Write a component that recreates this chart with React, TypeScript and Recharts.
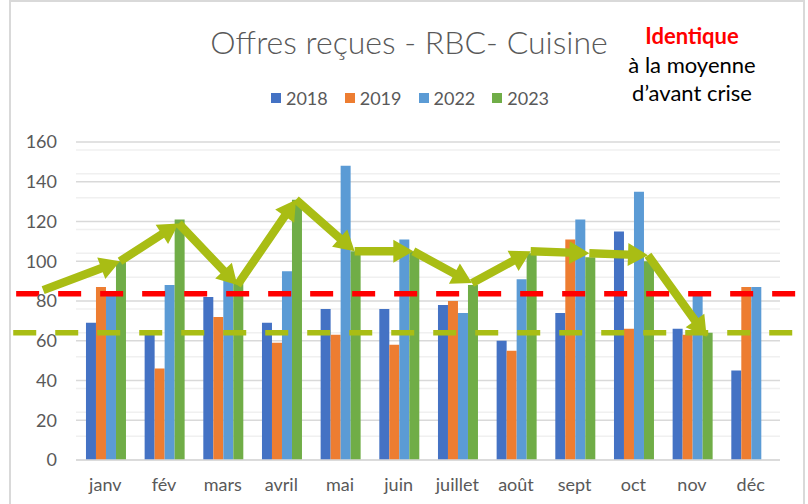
import React from 'react';
import { ComposedChart, Bar, XAxis, YAxis, CartesianGrid, ReferenceLine, Legend } from 'recharts';

const months = ['janv', 'fév', 'mars', 'avril', 'mai', 'juin', 'juillet', 'août', 'sept', 'oct', 'nov', 'déc'];
const monthIndex = [0, 1, 2, 3, 4, 5, 6, 7, 8, 9, 10, 11];
const v2018 = [69, 63, 82, 69, 76, 76, 78, 60, 74, 115, 66, 45];
const v2019 = [87, 46, 72, 59, 63, 58, 80, 55, 111, 66, 63, 87];
const v2022 = [83, 88, 92, 95, 148, 111, 74, 91, 121, 135, 83, 87];
const v2023 = [100, 121, 90, 131, 105, 105, 88, 104, 102, 100, 64, null];

const yTicks = [0, 20, 40, 60, 80, 100, 120, 140, 160];
const minorTicks = [4, 8, 12, 16, 24, 28, 32, 36, 44, 48, 52, 56, 64, 68, 72, 76, 84, 88, 92, 96, 104, 108, 112, 116, 124, 128, 132, 136, 144, 148, 152, 156];

// trend arrows (position on month index axis, value)
const trendPos = [-1.06, 0.25, 1.25, 2.25, 3.25, 4.25, 5.25, 6.25, 7.25, 8.25, 9.25, 10.25];
const trendVal = [85.5, 100, 119, 88, 131, 105, 105, 89, 105, 104, 103, 62];

// dashed average lines
const redAvg = 83.7;
const greenAvg = 64;
const redSpan = [-1.52, 11.84];
const greenSpan = [-1.57, 11.92];
const posDomain = [-0.5, 11.5];

const FONT = 'Lato, "Open Sans", sans-serif';
const LIME = '#A9BD14';

const data = months.map((m, i) => ({
  month: m,
  pos: monthIndex[i],
  y2018: v2018[i],
  y2019: v2019[i],
  y2022: v2022[i],
  y2023: v2023[i],
}));

const segments = trendPos.slice(1).map((p, i) => [
  { x: trendPos[i], y: trendVal[i] },
  { x: p, y: trendVal[i + 1] },
]);

const ArrowShape = (props: any) => {
  const { x1, y1, x2, y2 } = props;
  if ([x1, y1, x2, y2].some((v) => typeof v !== 'number' || isNaN(v))) return null;
  const dx = x2 - x1;
  const dy = y2 - y1;
  const len = Math.hypot(dx, dy) || 1;
  const ux = dx / len;
  const uy = dy / len;
  const head = 20;
  const hw = 11.5;
  const sh = 4.2;
  const bx = x2 - ux * head;
  const by = y2 - uy * head;
  const nx = -uy;
  const ny = ux;
  const pts = [
    [x1 + nx * sh, y1 + ny * sh],
    [bx + nx * sh, by + ny * sh],
    [bx + nx * hw, by + ny * hw],
    [x2, y2],
    [bx - nx * hw, by - ny * hw],
    [bx - nx * sh, by - ny * sh],
    [x1 - nx * sh, y1 - ny * sh],
  ];
  return <polygon points={pts.map((p) => p.join(',')).join(' ')} fill={LIME} />;
};

const makeDash = (color: string) => (props: any) => {
  const { x1, y1, x2, y2 } = props;
  if ([x1, y1, x2, y2].some((v) => typeof v !== 'number' || isNaN(v))) return null;
  return <line x1={x1} y1={y1} x2={x2} y2={y2} stroke={color} strokeWidth={5.5} strokeDasharray="23 19" />;
};

const RedDash = makeDash('#FF0000');
const GreenDash = makeDash(LIME);

const renderLegend = (props: any) => {
  const payload = props.payload || [];
  return (
    <div
      style={{
        display: 'flex',
        justifyContent: 'center',
        paddingLeft: 12,
        fontFamily: FONT,
        fontSize: 18,
        color: '#595959',
        lineHeight: '24px',
      }}
    >
      {payload.map((p: any) => (
        <span key={p.value} style={{ display: 'inline-flex', alignItems: 'center', margin: '0 8.5px' }}>
          <span style={{ width: 10, height: 10, background: p.color, marginRight: 5, display: 'inline-block' }} />
          {p.value}
        </span>
      ))}
    </div>
  );
};

export default function App() {
  return (
    <div style={{ position: 'absolute', left: 0, top: 0, width: 808, height: 504, background: '#fff', overflow: 'hidden' }}>
      <div
        style={{
          position: 'absolute',
          left: 9,
          top: 0,
          width: 796,
          height: 520,
          border: '2px solid #d9d9d9',
          boxSizing: 'border-box',
        }}
      />
      <ComposedChart
        width={808}
        height={504}
        data={data}
        margin={{ top: 142, right: 28, bottom: 14, left: 16 }}
        barCategoryGap="17%"
        barGap={0}
      >
        <CartesianGrid vertical={false} horizontalValues={minorTicks} stroke="#f0f0f0" strokeWidth={1.5} />
        <CartesianGrid vertical={false} horizontalValues={yTicks} stroke="#d9d9d9" strokeWidth={1.5} />
        <XAxis
          dataKey="month"
          tickLine={false}
          axisLine={{ stroke: '#d9d9d9', strokeWidth: 1.5 }}
          tick={{ fill: '#595959', fontSize: 18, fontFamily: FONT }}
          tickSize={0}
          tickMargin={18}
          height={30}
          interval={0}
        />
        <XAxis
          xAxisId="t"
          dataKey="pos"
          type="number"
          domain={posDomain}
          allowDataOverflow
          hide
          padding={{ left: 0, right: 0 }}
        />
        <YAxis
          domain={[0, 160]}
          ticks={yTicks}
          axisLine={false}
          tickLine={false}
          tickSize={0}
          tickMargin={19}
          width={60}
          tick={{ fill: '#595959', fontSize: 18, fontFamily: FONT }}
        />
        <Legend
          layout="horizontal"
          verticalAlign="middle"
          align="center"
          wrapperStyle={{ top: 86, left: 0, width: 808, height: 24 }}
          content={renderLegend}
        />
        <Bar dataKey="y2018" name="2018" fill="#4472C4" isAnimationActive={false} />
        <Bar dataKey="y2019" name="2019" fill="#ED7D31" isAnimationActive={false} />
        <Bar dataKey="y2022" name="2022" fill="#5B9BD5" isAnimationActive={false} />
        <Bar dataKey="y2023" name="2023" fill="#70AD47" isAnimationActive={false} />
        <ReferenceLine
          xAxisId="t"
          segment={[{ x: redSpan[0], y: redAvg }, { x: redSpan[1], y: redAvg }]}
          ifOverflow="visible"
          shape={RedDash}
        />
        <ReferenceLine
          xAxisId="t"
          segment={[{ x: greenSpan[0], y: greenAvg }, { x: greenSpan[1], y: greenAvg }]}
          ifOverflow="visible"
          shape={GreenDash}
        />
        {segments.map((seg, i) => (
          <ReferenceLine key={i} xAxisId="t" segment={seg} ifOverflow="visible" shape={ArrowShape} />
        ))}
      </ComposedChart>
      <div
        style={{
          position: 'absolute',
          left: 0,
          width: 818,
          top: 24,
          textAlign: 'center',
          fontFamily: FONT,
          fontWeight: 300,
          fontSize: 32,
          lineHeight: '36px',
          color: '#595959',
          pointerEvents: 'none',
        }}
      >
        Offres reçues - RBC- Cuisine
      </div>
      <div
        style={{
          position: 'absolute',
          left: 592,
          width: 200,
          top: 22,
          textAlign: 'center',
          fontFamily: FONT,
          fontSize: 22,
          lineHeight: '28.5px',
          color: '#000',
          pointerEvents: 'none',
        }}
      >
        <div style={{ color: '#FF0000', fontWeight: 700 }}>Identique</div>
        <div>à la moyenne</div>
        <div>d’avant crise</div>
      </div>
    </div>
  );
}
